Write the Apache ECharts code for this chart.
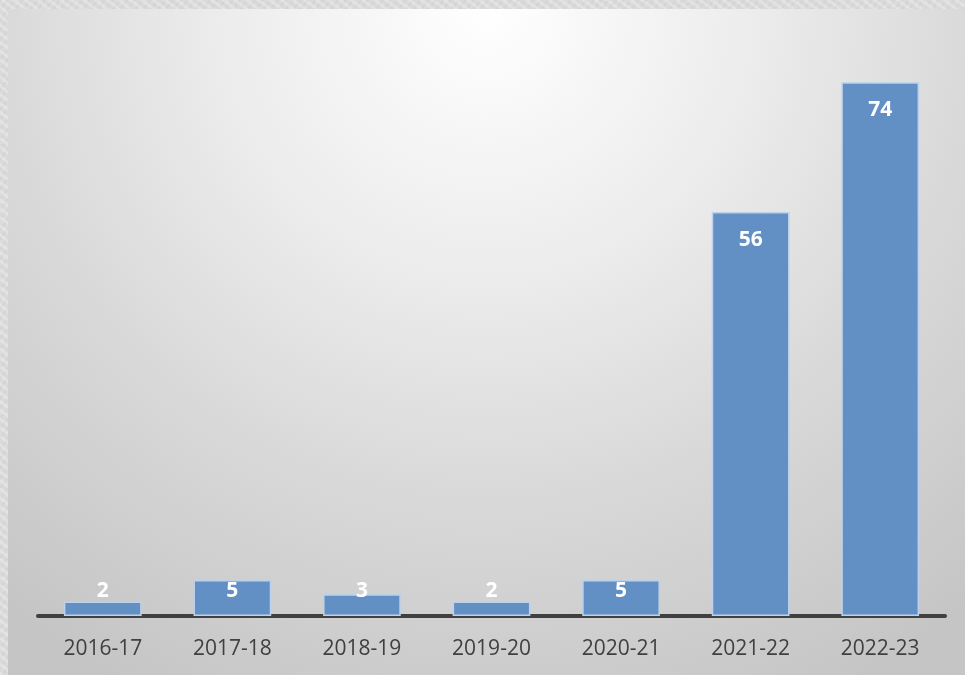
<!DOCTYPE html>
<html>
<head>
<meta charset="utf-8">
<script src="https://cdn.jsdelivr.net/npm/echarts@6/dist/echarts.min.js"></script>
<style>
  html, body { margin: 0; padding: 0; width: 965px; height: 675px; overflow: hidden;
    background: #dcdcdc; }
  #frame { position: absolute; left: 0; top: 0; width: 965px; height: 675px;
    background:
      repeating-linear-gradient(37deg, rgba(255,255,255,0.25) 0 3px, rgba(0,0,0,0) 3px 7px),
      repeating-linear-gradient(-53deg, rgba(190,190,190,0.2) 0 2px, rgba(0,0,0,0) 2px 6px),
      #dadada; }
  #chart { position: absolute; left: 8px; top: 9px; width: 957px; height: 666px;
    box-shadow: inset 2px 2px 0 #bcbcbc; }
</style>
</head>
<body>
<div id="frame"></div>
<div id="chart"></div>
<script>
const categories = ['2016-17', '2017-18', '2018-19', '2019-20', '2020-21', '2021-22', '2022-23'];
const values = [2, 5, 3, 2, 5, 56, 74];

const chart = echarts.init(document.getElementById('chart'), null, { renderer: 'canvas' });

const seriesData = values.map(v => ({
  value: v,
  label: v < 10
    ? { position: 'insideBottom', distance: 14 }
    : { position: 'insideTop', distance: 17 }
}));

chart.setOption({
  animation: false,
  backgroundColor: {
    type: 'radial', x: 0.5, y: 0.0, r: 1.15,
    colorStops: [
      { offset: 0, color: '#ffffff' },
      { offset: 0.35, color: '#ececec' },
      { offset: 0.65, color: '#d8d8d8' },
      { offset: 1, color: '#c5c5c5' }
    ]
  },
  grid: { left: 30, right: 20, top: 30, bottom: 59, containLabel: false },
  xAxis: {
    type: 'category',
    data: categories,
    axisLine: { show: true, lineStyle: { color: '#404040', width: 4 } },
    axisTick: { show: false },
    axisLabel: { color: '#404040', fontSize: 21, fontFamily: 'Open Sans', margin: 23 }
  },
  yAxis: {
    type: 'value', min: 0, max: 80, interval: 10,
    show: false,
    splitLine: { show: false }
  },
  series: [{
    type: 'bar',
    data: seriesData,
    barCategoryGap: '40%',
    itemStyle: { color: '#628fc4', borderColor: '#bcd1ea', borderWidth: 1.5 },
    label: {
      show: true, color: '#ffffff', fontSize: 21, fontWeight: 'bold', fontFamily: 'Open Sans'
    }
  }]
});
</script>
</body>
</html>
